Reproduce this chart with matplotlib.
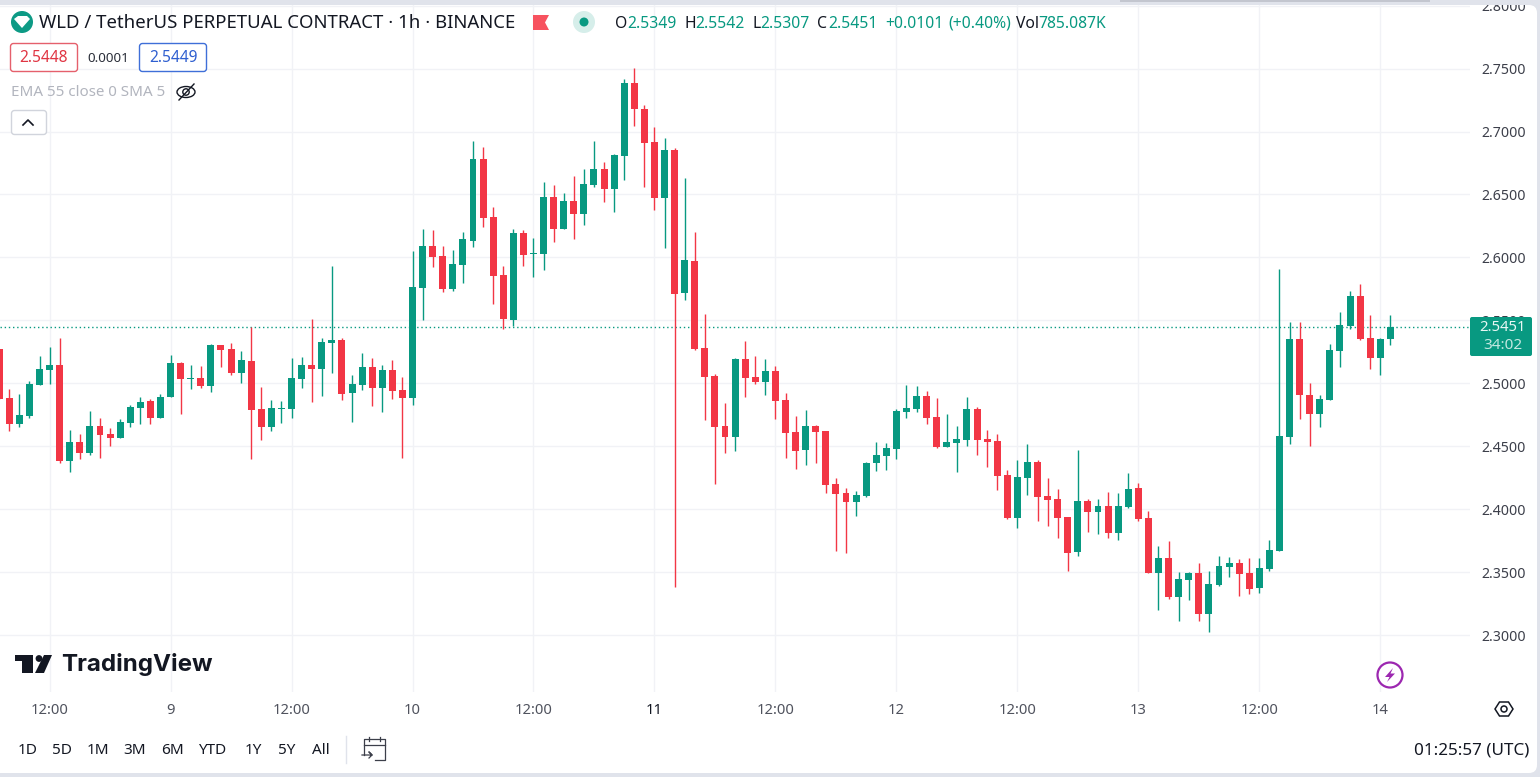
import numpy as np
import matplotlib
matplotlib.use('Agg')
import matplotlib.pyplot as plt
from matplotlib.patches import Circle, Ellipse, FancyBboxPatch, Polygon, Rectangle
from matplotlib.transforms import IdentityTransform

plt.rcParams['font.family'] = ['Noto Sans', 'DejaVu Sans']

# hourly candles, first one is 8th 07:00
opens = [2.5272, 2.4884, 2.4677, 2.4741, 2.4987, 2.5106, 2.5146, 2.4384, 2.4534, 2.4447,
         2.4661, 2.4598, 2.4566, 2.4685, 2.4804, 2.4860, 2.4725, 2.4892, 2.5161, 2.5034,
         2.5042, 2.4979, 2.5304, 2.5272, 2.5082, 2.5177, 2.4796, 2.4653, 2.4796, 2.4796,
         2.5034, 2.5146, 2.5114, 2.5320, 2.5344, 2.4923, 2.4987, 2.5130, 2.4963, 2.5106,
         2.4947, 2.4884, 2.5757, 2.6090, 2.6011, 2.5749, 2.5939, 2.6130, 2.6780, 2.6320,
         2.5860, 2.5503, 2.6193, 2.6026, 2.6026, 2.6479, 2.6225, 2.6447, 2.6344, 2.6574,
         2.6701, 2.6542, 2.6804, 2.7384, 2.7177, 2.6915, 2.6471, 2.6852, 2.5717, 2.5971,
         2.5280, 2.5058, 2.4661, 2.4574, 2.5193, 2.5050, 2.5011, 2.5098, 2.4868, 2.4614,
         2.4471, 2.4661, 2.4622, 2.4201, 2.4130, 2.4058, 2.4106, 2.4368, 2.4423, 2.4479,
         2.4772, 2.4796, 2.4899, 2.4733, 2.4495, 2.4526, 2.4550, 2.4796, 2.4558, 2.4542,
         2.4272, 2.3931, 2.4249, 2.4376, 2.4106, 2.4082, 2.3939, 2.3661, 2.4066, 2.3979,
         2.4026, 2.3812, 2.4019, 2.4169, 2.3931, 2.3495, 2.3614, 2.3304, 2.3439, 2.3495,
         2.3169, 2.3399, 2.3542, 2.3574, 2.3495, 2.3376, 2.3526, 2.3669, 2.4574, 2.5352,
         2.4907, 2.4757, 2.4868, 2.5257, 2.5455, 2.5693, 2.5360, 2.5201, 2.5349]
highs = [2.5272, 2.4955, 2.4915, 2.5019, 2.5217, 2.5288, 2.5360, 2.4630, 2.4598, 2.4780,
         2.4725, 2.4646, 2.4717, 2.4828, 2.4892, 2.4876, 2.4915, 2.5225, 2.5169, 2.5146,
         2.5138, 2.5312, 2.5304, 2.5320, 2.5257, 2.5447, 2.4971, 2.4868, 2.4860, 2.5201,
         2.5209, 2.5511, 2.5360, 2.5931, 2.5360, 2.5066, 2.5241, 2.5201, 2.5146, 2.5185,
         2.5050, 2.6050, 2.6225, 2.6217, 2.6090, 2.6058, 2.6201, 2.6923, 2.6876, 2.6400,
         2.5931, 2.6225, 2.6217, 2.6153, 2.6598, 2.6574, 2.6511, 2.6646, 2.6701, 2.6923,
         2.6757, 2.6820, 2.7415, 2.7503, 2.7209, 2.7034, 2.6947, 2.6868, 2.6630, 2.6201,
         2.5550, 2.5074, 2.4844, 2.5201, 2.5336, 2.5217, 2.5193, 2.5138, 2.4923, 2.4741,
         2.4788, 2.4669, 2.4622, 2.4249, 2.4169, 2.4145, 2.4376, 2.4534, 2.4526, 2.4796,
         2.4987, 2.4979, 2.4939, 2.4884, 2.4757, 2.4661, 2.4892, 2.4812, 2.4630, 2.4598,
         2.4312, 2.4392, 2.4519, 2.4392, 2.4249, 2.4161, 2.3939, 2.4471, 2.4082, 2.4082,
         2.4138, 2.4130, 2.4288, 2.4209, 2.3987, 2.3709, 2.3749, 2.3503, 2.3503, 2.3574,
         2.3511, 2.3630, 2.3622, 2.3606, 2.3614, 2.3614, 2.3757, 2.5907, 2.5487, 2.5487,
         2.5003, 2.4907, 2.5312, 2.5566, 2.5733, 2.5788, 2.5542, 2.5360, 2.5542]
lows = [2.4876, 2.4622, 2.4653, 2.4725, 2.4987, 2.4995, 2.4368, 2.4296, 2.4399, 2.4431,
        2.4407, 2.4503, 2.4566, 2.4653, 2.4677, 2.4677, 2.4725, 2.4892, 2.4757, 2.4955,
        2.4963, 2.4931, 2.5130, 2.5066, 2.5003, 2.4399, 2.4550, 2.4622, 2.4685, 2.4725,
        2.4963, 2.4852, 2.4899, 2.5082, 2.4868, 2.4693, 2.4947, 2.4820, 2.4772, 2.4876,
        2.4407, 2.4828, 2.5503, 2.5923, 2.5725, 2.5733, 2.5796, 2.6082, 2.6241, 2.5630,
        2.5431, 2.5455, 2.5931, 2.5844, 2.5899, 2.6122, 2.6225, 2.6146, 2.6257, 2.6558,
        2.6439, 2.6360, 2.6614, 2.7042, 2.6558, 2.6376, 2.6074, 2.3382, 2.5661, 2.5265,
        2.4709, 2.4201, 2.4447, 2.4463, 2.4892, 2.4995, 2.4907, 2.4717, 2.4407, 2.4320,
        2.4352, 2.4368, 2.4130, 2.3669, 2.3653, 2.3947, 2.4098, 2.4304, 2.4312, 2.4399,
        2.4725, 2.4772, 2.4677, 2.4487, 2.4495, 2.4296, 2.4503, 2.4431, 2.4336, 2.4153,
        2.3923, 2.3852, 2.4114, 2.3907, 2.3868, 2.3772, 2.3511, 2.3630, 2.3820, 2.3804,
        2.3772, 2.3757, 2.4011, 2.3907, 2.3495, 2.3201, 2.3288, 2.3114, 2.3280, 2.3114,
        2.3026, 2.3392, 2.3463, 2.3312, 2.3328, 2.3336, 2.3511, 2.3669, 2.4519, 2.4717,
        2.4503, 2.4653, 2.4868, 2.5130, 2.5431, 2.5344, 2.5114, 2.5066, 2.5307]
closes = [2.4876, 2.4677, 2.4749, 2.4995, 2.5114, 2.5146, 2.4384, 2.4534, 2.4447, 2.4661,
          2.4590, 2.4566, 2.4693, 2.4812, 2.4852, 2.4725, 2.4892, 2.5161, 2.5034, 2.5042,
          2.4979, 2.5304, 2.5265, 2.5082, 2.5185, 2.4788, 2.4653, 2.4804, 2.4804, 2.5042,
          2.5146, 2.5114, 2.5328, 2.5344, 2.4915, 2.4995, 2.5130, 2.4963, 2.5106, 2.4939,
          2.4884, 2.5765, 2.6090, 2.6003, 2.5749, 2.5947, 2.6146, 2.6780, 2.6312, 2.5852,
          2.5511, 2.6193, 2.6019, 2.6034, 2.6479, 2.6225, 2.6447, 2.6344, 2.6582, 2.6701,
          2.6542, 2.6812, 2.7384, 2.7177, 2.6907, 2.6471, 2.6852, 2.5709, 2.5979, 2.5272,
          2.5050, 2.4653, 2.4574, 2.5193, 2.5042, 2.5011, 2.5098, 2.4860, 2.4606, 2.4463,
          2.4661, 2.4614, 2.4193, 2.4122, 2.4058, 2.4114, 2.4368, 2.4431, 2.4487, 2.4780,
          2.4804, 2.4899, 2.4725, 2.4495, 2.4534, 2.4558, 2.4796, 2.4550, 2.4534, 2.4265,
          2.3931, 2.4257, 2.4376, 2.4098, 2.4074, 2.3931, 2.3653, 2.4066, 2.3979, 2.4026,
          2.3812, 2.4026, 2.4161, 2.3923, 2.3495, 2.3614, 2.3304, 2.3447, 2.3495, 2.3169,
          2.3407, 2.3550, 2.3574, 2.3487, 2.3368, 2.3534, 2.3677, 2.4582, 2.5352, 2.4907,
          2.4757, 2.4876, 2.5265, 2.5463, 2.5693, 2.5352, 2.5201, 2.5352, 2.5451]

first_hour = -5  # hours relative to the 12:00 tick on the 8th
time_ticks = [0, 12, 24, 36, 48, 60, 72, 84, 96, 108, 120, 132]
time_labels = ['12:00', '9', '12:00', '10', '12:00', '11', '12:00', '12', '12:00', '13', '12:00', '14']
price_ticks = [2.30, 2.35, 2.40, 2.45, 2.50, 2.55, 2.60, 2.65, 2.70, 2.75, 2.80]

GREEN = '#089981'
RED = '#f23645'
GRID = '#f1f2f6'
INK = '#131722'
W, H = 1540, 777

fig = plt.figure(figsize=(W / 100, H / 100), dpi=100, facecolor='#e0e3eb')
# white card with rounded corners, in display pixels
fig.add_artist(FancyBboxPatch((-20, 4), W - 3 + 20, H - 4 - 5, transform=IdentityTransform(), zorder=-5,
                              boxstyle='round,pad=0,rounding_size=8', fc='white', ec='none'))

ax = fig.add_axes([0, (H - 692) / H, 1470 / W, (692 - 5) / H])
ax.patch.set_alpha(0)
ax.set_xlim(-4.92, 140.9)
ax.set_ylim(2.2548, 2.8005)
for s in ax.spines.values():
    s.set_visible(False)

ax.set_axisbelow(True)
ax.grid(True, color=GRID, lw=1)
ax.set_xticks(time_ticks)
ax.set_xticklabels(time_labels)
ax.tick_params(axis='x', length=0, pad=8, labelsize=10.6, labelcolor='#50535e')
ax.get_xticklabels()[5].set_fontweight('bold')
ax.get_xticklabels()[5].set_color(INK)
ax.yaxis.tick_right()
ax.set_yticks(price_ticks)
ax.set_yticklabels(['%.4f' % p for p in price_ticks])
ax.tick_params(axis='y', length=0, pad=8, labelsize=10.2, labelcolor='#3c3f4a')

hours = np.arange(first_hour, first_hour + len(opens))
o = np.array(opens)
c = np.array(closes)
colors = [GREEN if a >= b else RED for a, b in zip(c, o)]
ax.vlines(hours, lows, highs, colors=colors, lw=1.0, zorder=3)
ax.bar(hours, np.abs(c - o), bottom=np.minimum(o, c), width=0.69, color=colors, zorder=4)
ax.axhline(closes[-1], color=GREEN, lw=1, ls=(0, (1, 2)), zorder=2)

# overlay in pixels for the tradingview ui around the chart
ui = fig.add_axes([0, 0, 1, 1], zorder=10)
ui.set_xlim(0, W)
ui.set_ylim(H, 0)
ui.axis('off')


def label(x, y, s, color=INK, size=10, ha='left', **kw):
    ui.text(x, y, s, color=color, fontsize=size, ha=ha, va='center', **kw)


def box(x, y, w, h, fc='white', ec='none', lw=1, r=3):
    ui.add_patch(FancyBboxPatch((x, y), w, h, boxstyle='round,pad=0,rounding_size=%s' % r,
                                fc=fc, ec=ec, lw=lw))


# grey band over the top edge, it cuts the 2.8000 label
ui.add_patch(Rectangle((0, 0), W, 5, fc='#e0e3eb', ec='none'))
ui.add_patch(Rectangle((1120, 0), 310, 2, fc='#c3c6cf', ec='none'))

# header
ui.add_patch(Circle((22, 22), 11, fc='#0d9a85', ec='none'))
ui.add_patch(Polygon([[14, 19], [18, 16], [27, 16], [30, 19], [22, 28]], fc='white', ec='none'))
label(39, 23.5, 'WLD / TetherUS PERPETUAL CONTRACT · 1h · BINANCE', size=13.4)
ui.add_patch(Polygon([[533, 15], [549, 15], [545, 22.5], [549, 30], [533, 30]], fc='#f7525f', ec='none'))
ui.add_patch(Circle((584, 22), 11, fc='#d6eeea', ec='none'))
ui.add_patch(Circle((584, 22), 4.5, fc=GREEN, ec='none'))
for x, s in [(615, 'O'), (684, 'H'), (752, 'L'), (817, 'C'), (1016, 'Vol')]:
    label(x, 23.5, s, size=11.3)
for x, s in [(627, '2.5349'), (695, '2.5542'), (760, '2.5307'), (828, '2.5451'),
             (885, '+0.0101'), (948, '(+0.40%)'), (1038, '785.087K')]:
    label(x, 23.5, s, color=GREEN, size=11.3)

box(10.5, 43.5, 67, 28, ec='#e5606c')
label(44, 58.5, '2.5448', color='#e03543', size=11.2, ha='center')
label(108, 58.5, '0.0001', size=9.6, ha='center', color='#2a2e39')
box(139.5, 43.5, 67, 28, ec='#3f6fd8')
label(173, 58.5, '2.5449', color='#2f5fd0', size=11.2, ha='center')
label(11, 93, 'EMA 55 close 0 SMA 5', color='#b2b5be', size=10.9)
ui.add_patch(Ellipse((186, 92), 18, 11, fc='none', ec=INK, lw=1))
ui.add_patch(Circle((186, 92), 3.2, fc='none', ec=INK, lw=1))
ui.plot([179, 194], [100, 84], color=INK, lw=1)
box(11.5, 110.5, 35, 24, ec='#d1d4dc')
ui.plot([23, 28, 33], [125, 120, 125], color=INK, lw=1.2)

# last price tag
box(1470, 317, 62, 39, fc=GREEN, r=2)
label(1502.5, 327.5, '2.5451', color='#e8f7f4', size=10.7, ha='center', fontweight='bold')
label(1502.5, 345.5, '34:02', color='#c4e8e1', size=11, ha='center')

# logo
ui.add_patch(Polygon([[15, 655], [33, 655], [33, 673], [22, 673], [22, 661], [15, 661]], fc=INK, ec='none'))
ui.add_patch(Circle((39, 658.5), 3.4, fc=INK, ec='none'))
ui.add_patch(Polygon([[44, 655], [52, 655], [44, 673], [35, 673]], fc=INK, ec='none'))
label(61, 665, 'TradingView', size=17.4, fontweight='bold', family=['Inter', 'DejaVu Sans'])

# lightning and settings icons
ui.add_patch(Circle((1390, 675), 12.5, fc='white', ec='#9c27b0', lw=1.6))
ui.add_patch(Polygon([[1393, 668], [1385, 677], [1389.5, 677], [1387, 682], [1395, 673.5], [1390.5, 673.5]],
                     fc='#9c27b0', ec='none'))
ui.add_patch(Polygon([[1495, 709], [1499.5, 702], [1508.5, 702], [1513, 709], [1508.5, 716], [1499.5, 716]],
                     fc='none', ec=INK, lw=1.1))
ui.add_patch(Circle((1504, 709), 3, fc='none', ec=INK, lw=1.1))

# range buttons
for x, s in [(28, '1D'), (62, '5D'), (98, '1M'), (135, '3M'), (172, '6M'),
             (212, 'YTD'), (253, '1Y'), (287, '5Y'), (321, 'All')]:
    label(x, 750.5, s, size=11, ha='center')
ui.plot([345.5, 345.5], [736, 763], color='#e0e3eb', lw=1)
cal = '#3c3f4a'
ui.plot([364, 364, 385, 385, 375], [755, 739, 739, 760, 760], color=cal, lw=0.9)
ui.plot([364, 385], [745, 745], color=cal, lw=0.9)
ui.plot([369, 369], [737, 741], color=cal, lw=0.9)
ui.plot([380, 380], [737, 741], color=cal, lw=0.9)
ui.plot([362, 372, 369, 372, 369], [755, 755, 752, 755, 758], color=cal, lw=0.9)
label(1529, 750.5, '01:25:57 (UTC)', size=12.3, ha='right')

fig.savefig('out.png', dpi=100, facecolor=fig.get_facecolor())
